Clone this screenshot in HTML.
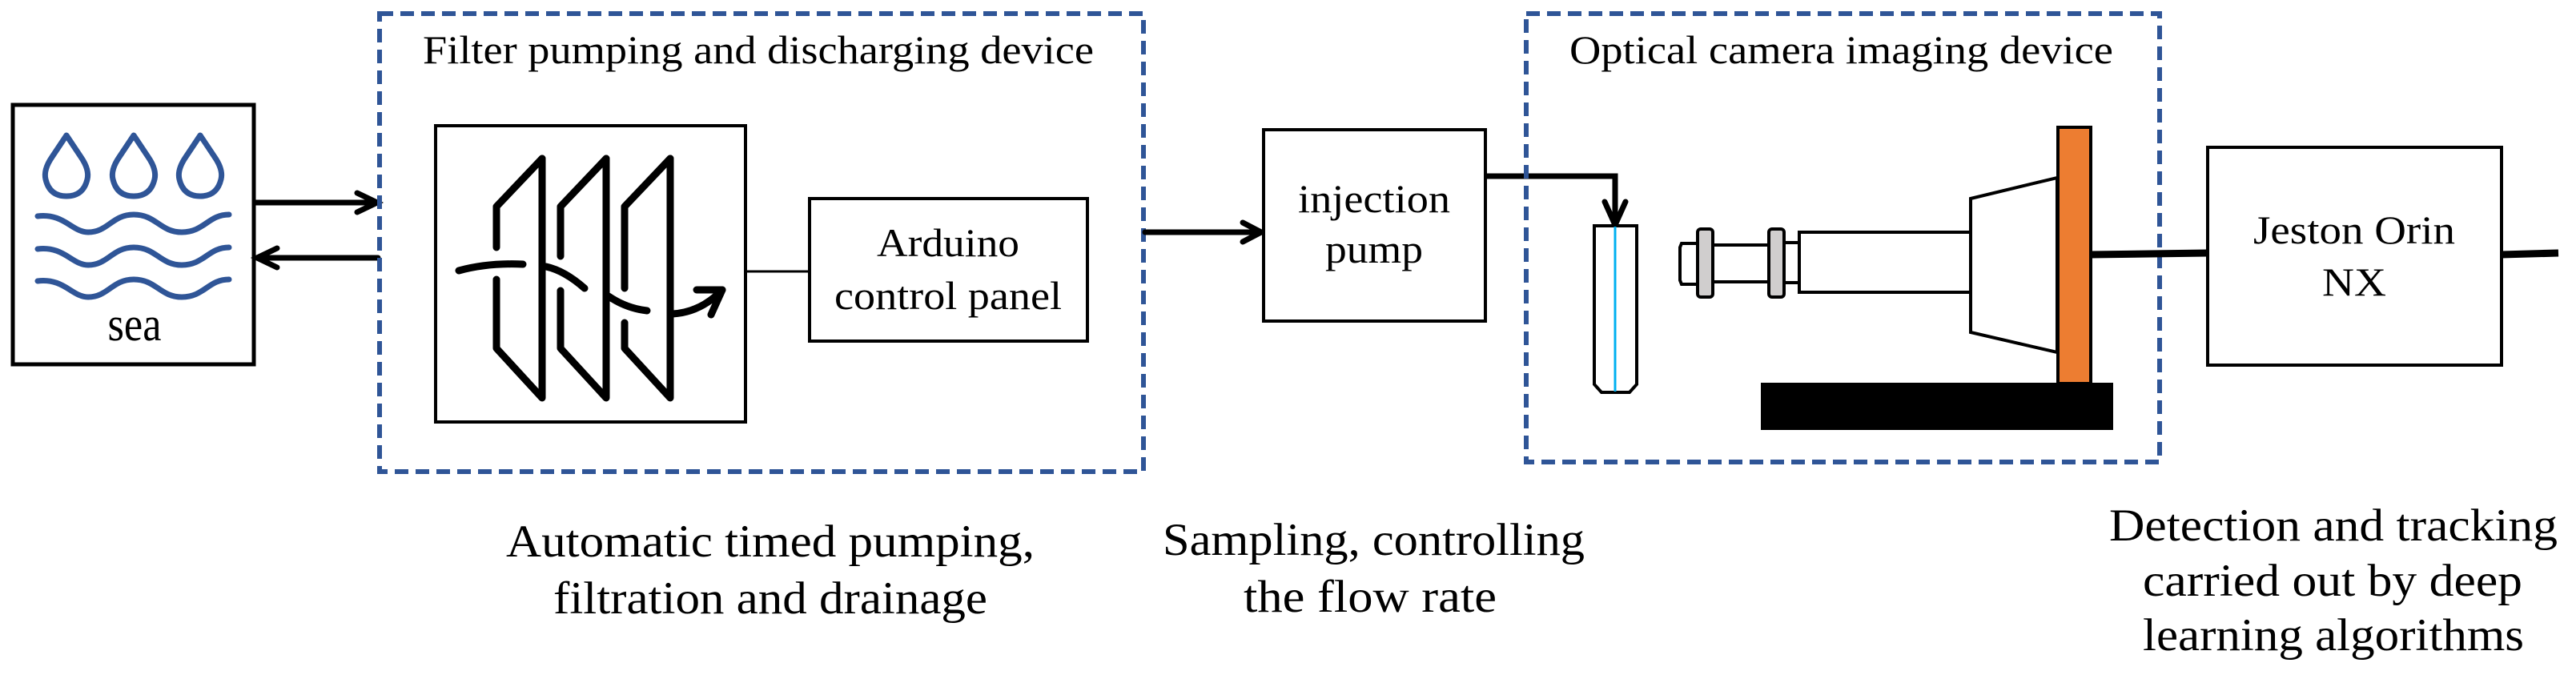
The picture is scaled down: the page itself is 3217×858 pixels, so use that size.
<!DOCTYPE html>
<html><head><meta charset="utf-8"><style>
html,body{margin:0;padding:0;background:#fff;}
svg{display:block;}
svg text{font-family:"Liberation Serif","Times New Roman",serif;fill:#000;}
</style></head><body>
<svg width="3217" height="858" viewBox="0 0 3217 858" xmlns="http://www.w3.org/2000/svg" font-family="'Liberation Serif', 'Times New Roman', serif">
<!-- sea box -->
<rect x="16" y="131" width="301" height="324" fill="#fff" stroke="#000" stroke-width="5"/>
<g fill="none" stroke="#2F5597" stroke-width="7" stroke-linecap="round" stroke-linejoin="round">
  <path d="M83,169 L65,196 Q54,212 57,224 Q62,245 83,245 Q104,245 109,224 Q112,212 101,196 Z"/>
  <path d="M167,169 L149,196 Q138,212 141,224 Q146,245 167,245 Q188,245 193,224 Q196,212 185,196 Z"/>
  <path d="M250,169 L232,196 Q221,212 224,224 Q229,245 250,245 Q271,245 276,224 Q279,212 268,196 Z"/>
  <path d="M47,270 C80,266 90,290 110,290 C135,290 140,268 167,268 C195,268 200,290 227,290 C255,290 260,268 286,268"/>
  <path d="M47,311 C80,307 90,331 110,331 C135,331 140,309 167,309 C195,309 200,331 227,331 C255,331 260,309 286,309"/>
  <path d="M47,351 C80,347 90,371 110,371 C135,371 140,349 167,349 C195,349 200,371 227,371 C255,371 260,349 286,349"/>
</g>
<g font-family="'Liberation Serif', 'Times New Roman', serif">
<text x="168" y="425" font-size="60" text-anchor="middle" textLength="67" lengthAdjust="spacingAndGlyphs">sea</text>
</g>
<!-- arrows sea <-> filter -->
<g stroke="#000" stroke-width="7" fill="none" stroke-linecap="round">
  <line x1="318" y1="253" x2="470" y2="253"/>
  <path d="M446,241 L471,253 L446,265"/>
  <line x1="322" y1="322" x2="472" y2="322"/>
  <path d="M346,310 L321,322 L346,334"/>
</g>
<!-- dashed box 1 -->
<rect x="474" y="17" width="954" height="572" fill="none" stroke="#2F5597" stroke-width="6" stroke-dasharray="17,9"/>
<g font-family="'Liberation Serif', 'Times New Roman', serif">
<text x="528" y="79" font-size="50" textLength="838" lengthAdjust="spacingAndGlyphs">Filter pumping and discharging device</text>
</g>
<!-- filter box -->
<rect x="544" y="157" width="387" height="370" fill="#fff" stroke="#000" stroke-width="4"/>
<g fill="none" stroke="#000" stroke-width="9" stroke-linecap="round" stroke-linejoin="round">
  <path d="M677,198 L677,497 L620,435 L620,349"/>
  <path d="M620,309 L620,258 L677,198"/>
  <path d="M757,198 L757,497 L700,435 L700,363"/>
  <path d="M700,320 L700,258 L757,198"/>
  <path d="M837,198 L837,497 L780,435 L780,403"/>
  <path d="M780,360 L780,258 L837,198"/>
  <path d="M573,338 Q610,328 653,330"/>
  <path d="M682,333 Q705,338 730,360"/>
  <path d="M760,370 Q782,385 808,388"/>
  <path d="M840,392 Q875,390 902,362"/>
  <path d="M870,362 L902,362 L888,393"/>
</g>
<line x1="931" y1="339" x2="1010" y2="339" stroke="#000" stroke-width="3"/>
<rect x="1011" y="248" width="347" height="178" fill="#fff" stroke="#000" stroke-width="4"/>
<g font-family="'Liberation Serif', 'Times New Roman', serif">
<text x="1184" y="320" font-size="50" text-anchor="middle" textLength="178" lengthAdjust="spacingAndGlyphs">Arduino</text>
<text x="1184" y="386" font-size="50" text-anchor="middle" textLength="284" lengthAdjust="spacingAndGlyphs">control panel</text>
</g>
<!-- to injection pump -->
<g stroke="#000" stroke-width="7" fill="none" stroke-linecap="round">
  <line x1="1430" y1="290" x2="1574" y2="290"/>
  <path d="M1552,278 L1575,290 L1552,302"/>
</g>
<rect x="1578" y="162" width="277" height="239" fill="#fff" stroke="#000" stroke-width="4"/>
<g font-family="'Liberation Serif', 'Times New Roman', serif">
<text x="1716" y="265" font-size="50" text-anchor="middle" textLength="190" lengthAdjust="spacingAndGlyphs">injection</text>
<text x="1716" y="328" font-size="50" text-anchor="middle" textLength="122" lengthAdjust="spacingAndGlyphs">pump</text>
</g>
<!-- pump to tube -->
<g stroke="#000" stroke-width="7" fill="none">
  <path d="M1855,220 L2017,220 L2017,278"/>
  <path d="M2004,252 L2017,281 L2030,252" stroke-linecap="round"/>
</g>
<!-- dashed box 2 -->
<rect x="1906" y="17" width="791" height="560" fill="none" stroke="#2F5597" stroke-width="6" stroke-dasharray="17,9"/>
<g font-family="'Liberation Serif', 'Times New Roman', serif">
<text x="1960" y="79" font-size="50" textLength="679" lengthAdjust="spacingAndGlyphs">Optical camera imaging device</text>
</g>
<!-- tube -->
<path d="M1991,282 L2044,282 L2044,480 L2035,490 L2000,490 L1991,480 Z" fill="#fff" stroke="#000" stroke-width="4"/>
<line x1="2017" y1="283" x2="2017" y2="489" stroke="#00B0F0" stroke-width="3"/>
<!-- lens -->
<g stroke="#000" stroke-width="4">
  <path d="M2100,304 L2120,304 L2120,355 L2100,355 L2098,350 L2098,309 Z" fill="#fff"/>
  <rect x="2139" y="306" width="71" height="46" fill="#fff"/>
  <rect x="2228" y="303" width="19" height="50" fill="#fff"/>
  <rect x="2120" y="286" width="19" height="85" rx="4" fill="#D0CECE"/>
  <rect x="2209" y="286" width="19" height="85" rx="4" fill="#D0CECE"/>
  <rect x="2247" y="290" width="214" height="75" fill="#fff"/>
  <path d="M2461,248 L2569,222 L2569,440 L2461,415 Z" fill="#fff"/>
</g>
<rect x="2570" y="159" width="41" height="320" fill="#ED7D31" stroke="#000" stroke-width="4"/>
<rect x="2199" y="478" width="440" height="59" fill="#000"/>
<!-- camera to jetson -->
<line x1="2611" y1="318" x2="2757" y2="316" stroke="#000" stroke-width="9"/>
<rect x="2757" y="184" width="367" height="272" fill="#fff" stroke="#000" stroke-width="4"/>
<g font-family="'Liberation Serif', 'Times New Roman', serif">
<text x="2940" y="304" font-size="50" text-anchor="middle" textLength="252" lengthAdjust="spacingAndGlyphs">Jeston Orin</text>
<text x="2940" y="369" font-size="50" text-anchor="middle" textLength="80" lengthAdjust="spacingAndGlyphs">NX</text>
</g>
<line x1="3124" y1="318" x2="3195" y2="316" stroke="#000" stroke-width="9"/>
<!-- captions -->
<g font-family="'Liberation Serif', 'Times New Roman', serif" font-size="57">
<text x="632" y="695" textLength="660" lengthAdjust="spacingAndGlyphs">Automatic timed pumping,</text>
<text x="691" y="766" textLength="542" lengthAdjust="spacingAndGlyphs">filtration and drainage</text>
<text x="1452" y="693" textLength="527" lengthAdjust="spacingAndGlyphs">Sampling, controlling</text>
<text x="1553" y="764" textLength="316" lengthAdjust="spacingAndGlyphs">the flow rate</text>
<text x="2634" y="675" textLength="560" lengthAdjust="spacingAndGlyphs">Detection and tracking</text>
<text x="2676" y="744" textLength="474" lengthAdjust="spacingAndGlyphs">carried out by deep</text>
<text x="2676" y="812" textLength="476" lengthAdjust="spacingAndGlyphs">learning algorithms</text>
</g>
</svg>
</body></html>
